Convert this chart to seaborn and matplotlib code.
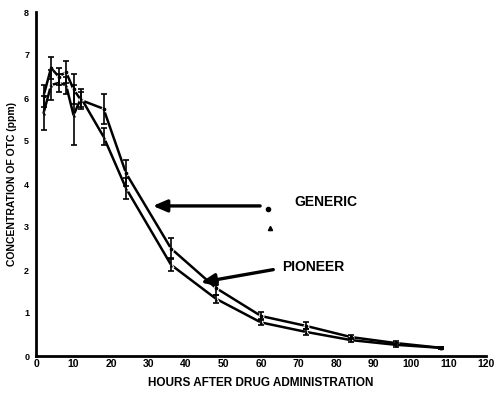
import numpy as np
import pandas as pd
import matplotlib
matplotlib.use("Agg")
import matplotlib.pyplot as plt
import seaborn as sns

hours = [2, 4, 6, 8, 10, 12, 18, 24, 36, 48, 60, 72, 84, 96, 108]
generic = [6.05, 6.7, 6.5, 6.6, 6.2, 5.95, 5.75, 4.25, 2.5, 1.58, 0.93, 0.7, 0.44, 0.3, 0.19]
generic_err = [0.25, 0.25, 0.2, 0.25, 0.35, 0.2, 0.35, 0.3, 0.25, 0.15, 0.1, 0.08, 0.05, 0.05, 0.03]
pioneer = [5.65, 6.3, 6.35, 6.3, 5.6, 6.0, 5.1, 3.9, 2.12, 1.33, 0.78, 0.56, 0.37, 0.26, 0.19]
pioneer_err = [0.4, 0.35, 0.2, 0.2, 0.7, 0.2, 0.2, 0.25, 0.15, 0.1, 0.07, 0.06, 0.04, 0.04, 0.03]

xticks = list(range(0, 121, 10))
yticks = list(range(0, 9))

sns.set_theme(style="white")
plt.rcParams['font.family'] = ['Liberation Sans', 'DejaVu Sans']
plt.rcParams.update({"text.color": "black", "axes.labelcolor": "black",
                     "xtick.color": "black", "ytick.color": "black"})

df = pd.DataFrame({
    "hours": hours * 2,
    "conc": generic + pioneer,
    "err": generic_err + pioneer_err,
    "group": ["GENERIC"] * len(hours) + ["PIONEER"] * len(hours),
})

fig = plt.figure(figsize=(5.01, 4.00), dpi=100)
ax = fig.add_axes([0.072, 0.11, 0.898, 0.86])

sns.lineplot(data=df, x="hours", y="conc", style="group", markers={"GENERIC": "o", "PIONEER": "^"},
             dashes=False, color="black", linewidth=1.8, markersize=3.5, legend=False, ax=ax)
for g in ["GENERIC", "PIONEER"]:
    sub = df[df.group == g]
    ax.errorbar(sub.hours, sub.conc, yerr=sub.err, fmt="none", ecolor="black",
                elinewidth=1.2, capsize=2, capthick=1.2)

ax.set_xlim(0, 120)
ax.set_ylim(0, 8)
ax.set_xticks(xticks)
ax.set_yticks(yticks)
ax.set_xticklabels([str(t) for t in xticks], fontweight="bold", fontsize=7.5, color="black")
ax.set_yticklabels([str(t) for t in yticks], fontweight="bold", fontsize=6.5, color="black")
ax.tick_params(axis="both", direction="out", length=3, width=1.5, color="black", pad=2)
ax.tick_params(axis="x", direction="in", length=3)
for s in ["top", "right"]:
    ax.spines[s].set_visible(False)
for s in ["left", "bottom"]:
    ax.spines[s].set_linewidth(2)
    ax.spines[s].set_color("black")

ax.set_xlabel("HOURS AFTER DRUG ADMINISTRATION", fontweight="bold", fontsize=8.5, labelpad=6, color="black")
ax.set_ylabel("CONCENTRATION OF OTC (ppm)", fontweight="bold", fontsize=7.5, labelpad=5, color="black")

# annotations
ax.annotate("", xy=(30.4, 3.49), xytext=(60.5, 3.49),
            arrowprops=dict(arrowstyle="-|>,head_length=0.7,head_width=0.3", color="black", lw=2.4))
ax.plot([61.9], [3.42], marker="o", color="black", markersize=3)
ax.plot([62.4], [2.98], marker="^", color="black", markersize=3)
ax.text(69, 3.58, "GENERIC", fontweight="bold", fontsize=10, va="center", ha="left", color="black")
ax.annotate("", xy=(43.2, 1.70), xytext=(64.0, 2.02),
            arrowprops=dict(arrowstyle="-|>,head_length=0.7,head_width=0.3", color="black", lw=2.4))
ax.text(65.5, 2.07, "PIONEER", fontweight="bold", fontsize=10, va="center", ha="left", color="black")

fig.savefig("out.png", dpi=100)
